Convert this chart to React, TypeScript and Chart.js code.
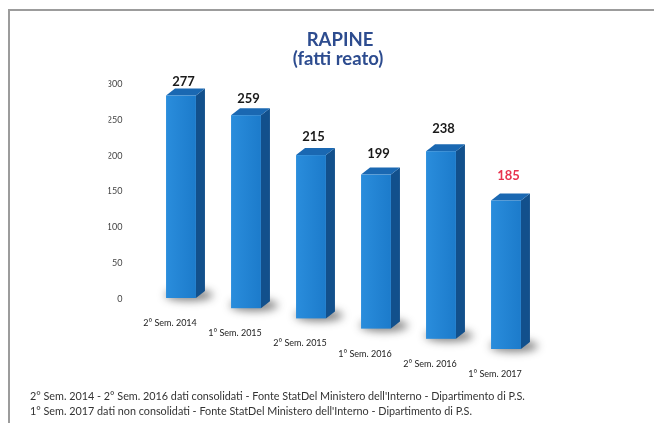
import React, { useEffect, useRef } from "react";
import { Chart, registerables } from "chart.js";

Chart.register(...registerables);

const categories = [
  "2° Sem. 2014",
  "1° Sem. 2015",
  "2° Sem. 2015",
  "1° Sem. 2016",
  "2° Sem. 2016",
  "1° Sem. 2017",
];
const rapine = [277, 259, 215, 199, 238, 185];
const consolidated = [true, true, true, true, true, false];
const yTicks = [0, 50, 100, 150, 200, 250, 300];
const titleLines = ["RAPINE", "(fatti reato)"];
const footnotes = [
  "2° Sem. 2014 - 2° Sem. 2016 dati consolidati - Fonte StatDel Ministero dell'Interno - Dipartimento di P.S.",
  "1° Sem. 2017 dati non consolidati - Fonte StatDel Ministero dell'Interno - Dipartimento di P.S.",
];

const FONT = "Lato, 'Open Sans', sans-serif";
const DEPTH_X = 9;
const DEPTH_Y = 7;
const DROP = 10.2;
const GROW = 0.02;

const bars3d = {
  id: "bars3d",
  beforeDraw(chart: any) {
    const ctx = chart.ctx as CanvasRenderingContext2D;
    ctx.save();
    ctx.fillStyle = "#ffffff";
    ctx.fillRect(0, 0, chart.width, chart.height);
    ctx.strokeStyle = "#9c9c9c";
    ctx.lineWidth = 2;
    ctx.beginPath();
    ctx.moveTo(9, chart.height);
    ctx.lineTo(9, 10);
    ctx.lineTo(chart.width, 10);
    ctx.stroke();
    ctx.fillStyle = "#2d4c8f";
    ctx.font = `bold 18.5px ${FONT}`;
    ctx.textAlign = "center";
    ctx.textBaseline = "middle";
    ctx.fillText(titleLines[0], 340, 40);
    ctx.fillText(titleLines[1], 338, 59);
    ctx.fillStyle = "#333333";
    ctx.font = `10.8px ${FONT}`;
    ctx.textAlign = "left";
    footnotes.forEach((t, i) => ctx.fillText(t, 30, 397 + 15 * i));
    ctx.restore();
  },
  beforeDatasetsDraw(chart: any) {
    const ctx = chart.ctx as CanvasRenderingContext2D;
    const meta = chart.getDatasetMeta(0);
    meta.data.forEach((el: any, i: number) => {
      const { x, y, base, width } = el.getProps(["x", "y", "base", "width"], true);
      const s = 1.02 + GROW * i;
      const bottom = base - 1 + DROP * i;
      const top = bottom - (base - y) * s;
      const l = x - width / 2;
      const r = x + width / 2;
      // shadow
      ctx.save();
      ctx.filter = "blur(4px)";
      ctx.fillStyle = "rgba(30,30,30,0.55)";
      ctx.beginPath();
      ctx.ellipse(x + 8, bottom - 3, width * 0.8, 6, 0, 0, Math.PI * 2);
      ctx.fill();
      ctx.restore();
      ctx.save();
      // side
      ctx.fillStyle = "#12508c";
      ctx.beginPath();
      ctx.moveTo(r, top);
      ctx.lineTo(r + DEPTH_X, top - DEPTH_Y);
      ctx.lineTo(r + DEPTH_X, bottom - DEPTH_Y);
      ctx.lineTo(r, bottom);
      ctx.closePath();
      ctx.fill();
      // top
      ctx.fillStyle = "#1a68b2";
      ctx.beginPath();
      ctx.moveTo(l, top);
      ctx.lineTo(r, top);
      ctx.lineTo(r + DEPTH_X, top - DEPTH_Y);
      ctx.lineTo(l + DEPTH_X, top - DEPTH_Y);
      ctx.closePath();
      ctx.fill();
      // front
      const g = ctx.createLinearGradient(l, 0, r, 0);
      g.addColorStop(0, "#2a8ddc");
      g.addColorStop(1, "#1c7bcb");
      ctx.fillStyle = g;
      ctx.fillRect(l, top, width, bottom - top);
      ctx.restore();
    });
    return false;
  },
  afterDraw(chart: any) {
    const ctx = chart.ctx as CanvasRenderingContext2D;
    const meta = chart.getDatasetMeta(0);
    ctx.save();
    ctx.textAlign = "center";
    ctx.textBaseline = "middle";
    meta.data.forEach((el: any, i: number) => {
      const { x, y, base } = el.getProps(["x", "y", "base"], true);
      const s = 1.02 + GROW * i;
      const bottom = base - 1 + DROP * i;
      const top = bottom - (base - y) * s;
      ctx.font = `bold 13px ${FONT}`;
      ctx.fillStyle = consolidated[i] ? "#1a1a1a" : "#e8334f";
      ctx.fillText(String(rapine[i]), x + DEPTH_X / 2 - 2, top - 14 - 2.2 * i);
      ctx.font = `9px ${FONT}`;
      ctx.fillStyle = "#222222";
      ctx.fillText(categories[i], x - 11, bottom + 25);
    });
    ctx.restore();
  },
};

export default function App() {
  const ref = useRef<HTMLCanvasElement | null>(null);
  useEffect(() => {
    if (!ref.current) return;
    const chart = new Chart(ref.current, {
      type: "bar",
      data: {
        labels: categories,
        datasets: [
          {
            data: rapine,
            backgroundColor: "rgba(0,0,0,0)",
            barPercentage: 0.46,
            categoryPercentage: 1,
          },
        ],
      },
      options: {
        animation: false,
        responsive: false,
        devicePixelRatio: 1,
        layout: { padding: { left: 108.5, right: 115.5, top: 84, bottom: 124 } },
        plugins: { legend: { display: false }, tooltip: { enabled: false }, title: { display: false } },
        scales: {
          x: { display: false },
          y: {
            min: 0,
            max: 300,
            afterBuildTicks: (s: any) => {
              s.ticks = yTicks.map((v) => ({ value: v }));
            },
            afterFit: (s: any) => {
              s.width = 40;
            },
            grid: { display: false, drawTicks: false },
            border: { display: false },
            ticks: { padding: 26, color: "#444444", font: { family: FONT, size: 9 } },
          },
        },
      },
      plugins: [bars3d],
    });
    return () => chart.destroy();
  }, []);
  return (
    <div style={{ position: "absolute", left: 0, top: 0, width: 654, height: 423 }}>
      <canvas ref={ref} width={654} height={423} />
    </div>
  );
}
